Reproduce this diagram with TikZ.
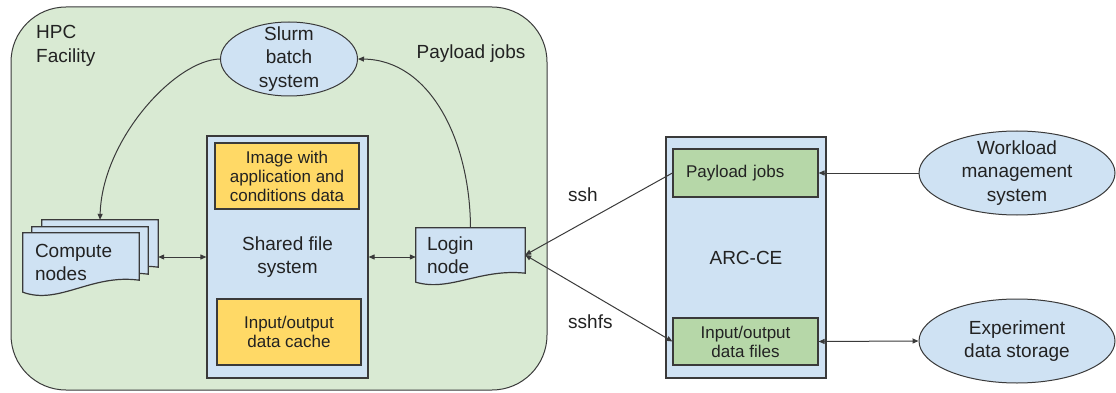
\documentclass[tikz,border=0pt]{standalone}
\usepackage{fontspec}
\setmainfont{Liberation Sans}
\usetikzlibrary{arrows.meta,calc,shapes.geometric}
\definecolor{hpcgreen}{HTML}{D9EAD3}
\definecolor{lblue}{HTML}{CFE2F3}
\definecolor{lyellow}{HTML}{FFD966}
\definecolor{mgreen}{HTML}{B6D7A8}
\definecolor{edgec}{HTML}{3A3A3A}
\definecolor{txt}{HTML}{222222}
\pgfdeclarelayer{bg}
\pgfdeclarelayer{mid}
\pgfsetlayers{bg,mid,main}
\tikzset{
  base/.style={text=txt, font=\fontsize{19}{23.5}\selectfont, align=center, inner sep=0pt},
  small/.style={font=\fontsize{17}{19}\selectfont},
  hpcbox/.style={draw=edgec, line width=1pt, fill=hpcgreen, rounded corners=55pt, inner sep=0pt},
  bluebox/.style={base, draw=edgec, line width=1.2pt, fill=lblue},
  yellowbox/.style={base, small, draw=edgec, line width=1.2pt, fill=lyellow},
  greenbox/.style={base, small, draw=edgec, line width=1.2pt, fill=mgreen},
  oval/.style={ellipse, draw=edgec, line width=1pt, fill=lblue, inner sep=0pt},
  docnode/.style={base, align=left, rectangle},
  docfill/.style={draw=edgec, line width=1.2pt, fill=lblue},
  conn/.style={draw=edgec, line width=1pt, -{Triangle[length=6pt,width=5pt]}},
  dconn/.style={draw=edgec, line width=1pt, {Triangle[length=6pt,width=5pt]}-{Triangle[length=6pt,width=5pt]}},
  lbl/.style={base}
}
\newcommand{\docpath}[2]{(#1.north west) -- (#1.north east) -- ([yshift=#2]#1.south east)
  .. controls ($(#1.south west)!0.59!(#1.south east)+(0pt,{1.55*#2})$)
  and ($(#1.south west)!0.31!(#1.south east)+(0pt,{-1.1*#2})$) .. (#1.south west) -- cycle}
\begin{document}
\begin{tikzpicture}[x=1pt,y=-1pt]
\useasboundingbox (0,0) rectangle (1116,393);
% HPC facility
\begin{pgfonlayer}{bg}
\node[hpcbox, minimum width=536pt, minimum height=383pt] (hpc) at (279,198.5) {};
\end{pgfonlayer}
\node[lbl, align=left, anchor=west] (hpclbl) at (36,46) {HPC\\Facility};
\node[lbl] (pjlbl) at (471,54) {Payload jobs};
% Slurm
\node[oval, minimum width=137pt, minimum height=74pt,
      label={[base]center:Slurm\\batch\\system}] (slurm) at (289,59) {};
% Shared file system
\node[bluebox, minimum width=161pt, minimum height=242pt] (shared) at (287.5,257) {Shared file\\system};
\node[yellowbox, minimum width=144pt, minimum height=66pt] (image) at (287,176) {Image with\\application and\\conditions data};
\node[yellowbox, minimum width=144pt, minimum height=66pt] (cache) at (289,332) {Input/output\\data cache};
% Compute nodes (stacked documents)
\node[docnode, text width=92pt, inner xsep=12pt, minimum height=59pt] (compute3) at (100,249.5) {};
\node[docnode, text width=92pt, inner xsep=12pt, minimum height=59pt] (compute2) at (90,256.5) {};
\node[docnode, text width=92pt, inner xsep=12pt, minimum height=59pt] (compute) at (81,262.5) {Compute\\nodes};
% Login node
\node[docnode, text width=87pt, inner xsep=11pt, minimum height=54pt] (login) at (470.5,255) {Login\\node};
\begin{pgfonlayer}{mid}
\path[docfill] \docpath{compute3}{12pt};
\path[docfill] \docpath{compute2}{12pt};
\path[docfill] \docpath{compute}{12pt};
\path[docfill] \docpath{login}{9pt};
\end{pgfonlayer}
% ARC-CE
\node[bluebox, minimum width=160pt, minimum height=241pt] (arc) at (746,257.5) {ARC-CE};
\node[greenbox, align=left, text width=119pt, inner xsep=13pt, minimum height=48pt] (payload) at (745.5,173) {Payload jobs};
\node[greenbox, minimum width=145pt, minimum height=47pt] (iofiles) at (745.5,341.5) {Input/output\\data files};
% Right ellipses
\node[oval, minimum width=196pt, minimum height=84pt,
      label={[base]center:Workload\\management\\system}] (wms) at (1017,173) {};
\node[oval, minimum width=196pt, minimum height=84pt,
      label={[base]center:Experiment\\data storage}] (storage) at (1017,341) {};
% labels
\node[lbl, anchor=west] (sshlbl) at (568,195) {ssh};
\node[lbl, anchor=west] (sshfslbl) at (568,322) {sshfs};
% connectors
\draw[conn] (slurm.west) .. controls (175,60) and (102,140) .. (compute3.north);
\draw[conn] (login.north) .. controls (470,140) and (430,60) .. (slurm.east);
\draw[dconn] (compute3.east |- shared.center) -- (shared.west);
\draw[dconn] (shared.east) -- (shared.east -| login.west);
\draw[conn] (payload.west) -- (login.east);
\draw[dconn] (login.east) -- (iofiles.west);
\draw[conn] (wms.west) -- (payload.east);
\draw[dconn] (iofiles.east) -- (storage.west);
\end{tikzpicture}
\end{document}
